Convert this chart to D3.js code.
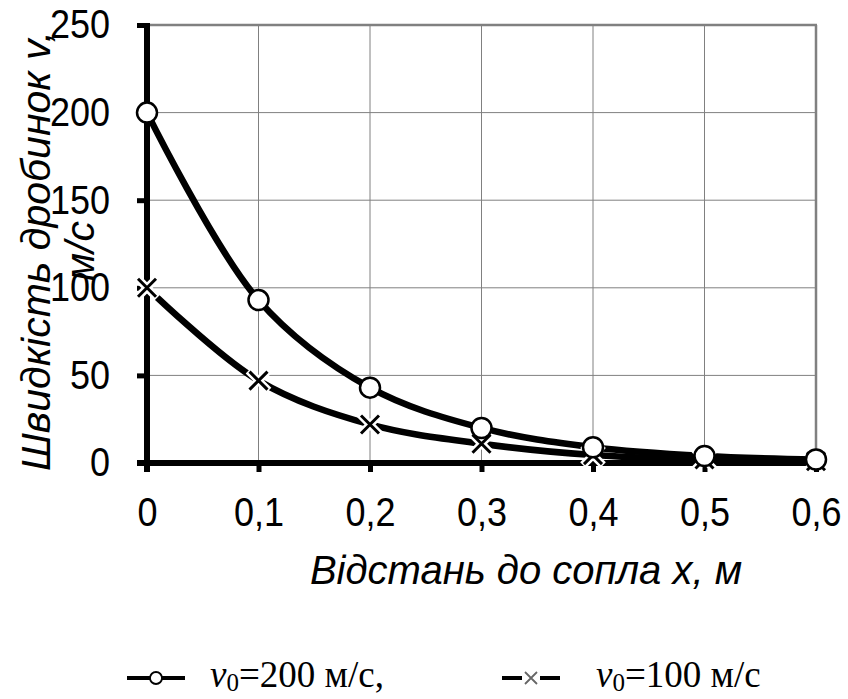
<!DOCTYPE html>
<html>
<head>
<meta charset="utf-8">
<script src="https://cdn.jsdelivr.net/npm/d3@7"></script>
<style>
  body { margin: 0; background: #fff; }
  svg { display: block; }
</style>
</head>
<body>
<div id="chart"></div>
<script>
// Layout
const width = 848;
const height = 699;
const plot = { left: 147, right: 816, top: 25, bottom: 463 };

// Data
const distances = [0, 0.1, 0.2, 0.3, 0.4, 0.5, 0.6];
const speed_200 = [200, 93, 43, 20, 9, 4, 2];
const speed_100 = [100, 47, 22, 11, 4.5, 2, 1];
const x_ticks = [0, 0.1, 0.2, 0.3, 0.4, 0.5, 0.6];
const y_ticks = [0, 50, 100, 150, 200, 250];

const series = [
  { name: "200", values: speed_200, marker: "circle" },
  { name: "100", values: speed_100, marker: "cross" }
];

// Scales
const x = d3.scaleLinear().domain([0, 0.6]).range([plot.left, plot.right]);
const y = d3.scaleLinear().domain([0, 250]).range([plot.bottom, plot.top]);

const svg = d3.select("#chart").append("svg")
  .attr("width", width)
  .attr("height", height)
  .style("font-family", "'Liberation Sans', Arial, sans-serif");

// Grid
const grid = svg.append("g");
grid.selectAll("line.v").data(x_ticks.slice(1)).join("line")
  .attr("x1", d => x(d)).attr("x2", d => x(d))
  .attr("y1", y(250)).attr("y2", y(0))
  .attr("stroke", "#808080")
  .attr("stroke-width", (d, i) => i === x_ticks.length - 2 ? 2.5 : 1);
grid.selectAll("line.h").data(y_ticks.slice(1)).join("line")
  .attr("x1", x(0)).attr("x2", x(0.6) + 1)
  .attr("y1", d => y(d)).attr("y2", d => y(d))
  .attr("stroke", "#808080")
  .attr("stroke-width", (d, i) => i === y_ticks.length - 2 ? 2.5 : 1);

// Axes
const x_axis = d3.axisBottom(x)
  .tickValues(x_ticks)
  .tickFormat(d => d === 0 ? "0" : d3.format(".1f")(d).replace(".", ","))
  .tickSize(9)
  .tickSizeOuter(0)
  .tickPadding(26);

const y_axis = d3.axisLeft(y)
  .tickValues(y_ticks)
  .tickSize(10)
  .tickSizeOuter(0)
  .tickPadding(27);

const gx = svg.append("g").attr("transform", `translate(0,${y(0)})`).call(x_axis);
const gy = svg.append("g").attr("transform", `translate(${x(0)},0)`).call(y_axis);

[gx, gy].forEach(g => {
  g.select(".domain").remove();
  g.selectAll(".tick line").attr("stroke", "#000").attr("stroke-width", 5);
  g.selectAll(".tick text")
    .attr("fill", "#000")
    .style("font-size", "40px");
});
// narrower glyphs like the reference
gx.selectAll(".tick text").attr("y", 0).attr("transform", "translate(0,35) scale(0.9,1)");
gy.selectAll(".tick text").attr("x", 0).attr("transform", "translate(-37,0) scale(0.9,1)");

svg.append("line")
  .attr("x1", x(0) - 10).attr("x2", x(0.6))
  .attr("y1", y(0)).attr("y2", y(0))
  .attr("stroke", "#000").attr("stroke-width", 6);
svg.append("line")
  .attr("x1", x(0)).attr("x2", x(0))
  .attr("y1", y(250) - 2).attr("y2", y(0) + 9)
  .attr("stroke", "#000").attr("stroke-width", 6);

// Lines
const line = d3.line()
  .x((d, i) => x(distances[i]))
  .y(d => y(d))
  .curve(d3.curveCatmullRom.alpha(0.5));

svg.append("g").selectAll("path").data(series).join("path")
  .attr("d", s => line(s.values))
  .attr("fill", "none")
  .attr("stroke", "#000")
  .attr("stroke-width", 6.5);

// Markers (crosses first, circles on top)
function draw_cross(g, cx, cy, r, color, w) {
  g.append("path")
    .attr("d", `M${cx - r},${cy - r}L${cx + r},${cy + r}M${cx - r},${cy + r}L${cx + r},${cy - r}`)
    .attr("stroke", color).attr("stroke-width", w).attr("fill", "none");
}

const markers = svg.append("g");
speed_100.forEach((v, i) => {
  draw_cross(markers, x(distances[i]), y(v), 10, "#fff", 8);
  draw_cross(markers, x(distances[i]), y(v), 9, "#000", 3);
});
markers.selectAll("circle").data(speed_200).join("circle")
  .attr("cx", (d, i) => x(distances[i]))
  .attr("cy", d => y(d))
  .attr("r", 10)
  .attr("fill", "#fff")
  .attr("stroke", "#000")
  .attr("stroke-width", 2.5);

// Axis titles
svg.append("text")
  .attr("x", 526).attr("y", 584)
  .attr("text-anchor", "middle")
  .style("font-size", "40px")
  .style("font-style", "italic")
  .text("Відстань до сопла х, м");

const y_title = svg.append("g")
  .attr("transform", "translate(50,251) rotate(-90)")
  .style("font-size", "41px")
  .style("font-style", "italic")
  .attr("text-anchor", "middle");
y_title.append("text").attr("x", 0).attr("y", 0).text("Швидкість дробинок v,");
y_title.append("text").attr("x", 0).attr("y", 44).text("м/с");

// Legend
const legend_items = [
  { label: "=200 м/с,", marker: "circle", x0: 127, tx: 210 },
  { label: "=100 м/с", marker: "cross", x0: 502, tx: 596 }
];
const ly = 678;
legend_items.forEach(item => {
  const g = svg.append("g");
  g.append("line")
    .attr("x1", item.x0).attr("x2", item.x0 + 58)
    .attr("y1", ly).attr("y2", ly)
    .attr("stroke", "#000").attr("stroke-width", 4);
  const cx = item.x0 + 29;
  if (item.marker === "circle") {
    g.append("circle").attr("cx", cx).attr("cy", ly).attr("r", 6)
      .attr("fill", "#fff").attr("stroke", "#000").attr("stroke-width", 1.8);
  } else {
    g.append("rect").attr("x", cx - 9).attr("y", ly - 9).attr("width", 18).attr("height", 18).attr("fill", "#fff");
    draw_cross(g, cx, ly, 6, "#666", 1.8);
  }
  const t = g.append("text")
    .attr("x", item.tx).attr("y", ly + 9)
    .style("font-family", "'Liberation Serif', 'Times New Roman', serif")
    .style("font-size", "37px");
  t.append("tspan").style("font-style", "italic").text("v");
  t.append("tspan").attr("dy", 4).style("font-size", "25px").text("0");
  t.append("tspan").attr("dy", -4).text(item.label);
});
</script>
</body>
</html>
